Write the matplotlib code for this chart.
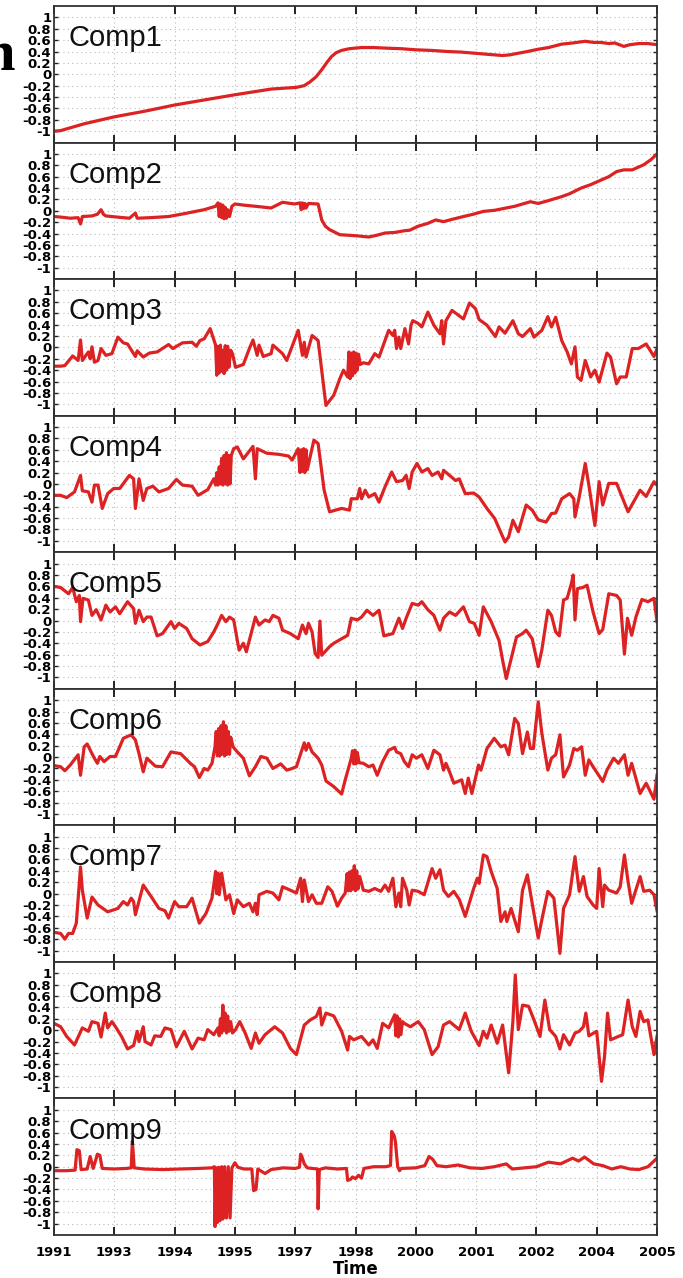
import numpy as np
import matplotlib
matplotlib.use("Agg")
import matplotlib.pyplot as plt

years = ['1991', '1993', '1994', '1995', '1997', '1998', '2000', '2001', '2002', '2004', '2005']
names = ['Comp1', 'Comp2', 'Comp3', 'Comp4', 'Comp5', 'Comp6', 'Comp7', 'Comp8', 'Comp9']

# (position on time axis, value)
comp1 = [(0.0, -1.0), (0.11, -0.99), (0.5, -0.87), (0.99, -0.75), (1.5, -0.65), (2.0, -0.54), (2.5, -0.45),
         (3.0, -0.36), (3.3, -0.31), (3.6, -0.26), (4.02, -0.23), (4.15, -0.2), (4.25, -0.13), (4.35, -0.04),
         (4.44, 0.08), (4.52, 0.2), (4.6, 0.31), (4.68, 0.38), (4.77, 0.42), (4.9, 0.45), (5.1, 0.47), (5.3, 0.47),
         (5.49, 0.46), (5.75, 0.45), (6.0, 0.43), (6.25, 0.42), (6.53, 0.40), (6.75, 0.39), (6.98, 0.37), (7.2, 0.35),
         (7.44, 0.33), (7.55, 0.34), (7.7, 0.37), (7.85, 0.40), (8.03, 0.44), (8.2, 0.47), (8.42, 0.53), (8.6, 0.55),
         (8.81, 0.58), (8.95, 0.56), (9.07, 0.56), (9.2, 0.54), (9.3, 0.55), (9.45, 0.49), (9.55, 0.52), (9.7, 0.54),
         (9.85, 0.54), (10.0, 0.52)]

comp2 = [(0.0, -0.10), (0.11, -0.11), (0.27, -0.13), (0.40, -0.12), (0.44, -0.23), (0.47, -0.10), (0.63, -0.09),
         (0.72, -0.06), (0.78, 0.02), (0.82, -0.06), (0.86, -0.09), (1.05, -0.11), (1.25, -0.13), (1.35, -0.04),
         (1.38, -0.13), (1.6, -0.12), (1.9, -0.10), (2.16, -0.05), (2.3, -0.02), (2.49, 0.02), (2.68, 0.08),
         (2.72, 0.14), (2.74, -0.10), (2.76, 0.12), (2.78, -0.12), (2.80, 0.10), (2.82, -0.14), (2.84, 0.06),
         (2.86, -0.13), (2.88, 0.02), (2.91, -0.10), (2.95, 0.08), (3.0, 0.12), (3.15, 0.10), (3.34, 0.08),
         (3.6, 0.05), (3.79, 0.15), (3.99, 0.12), (4.08, 0.14), (4.10, 0.02), (4.12, 0.14), (4.14, 0.04),
         (4.16, 0.13), (4.18, 0.05), (4.22, 0.13), (4.38, 0.12), (4.44, -0.16), (4.5, -0.27), (4.57, -0.33),
         (4.74, -0.42), (4.9, -0.43), (5.03, -0.44), (5.22, -0.46), (5.35, -0.43), (5.49, -0.39), (5.65, -0.38),
         (5.81, -0.35), (5.9, -0.34), (6.04, -0.27), (6.2, -0.22), (6.33, -0.16), (6.46, -0.19), (6.6, -0.15),
         (6.79, -0.10), (6.95, -0.06), (7.12, -0.01), (7.31, 0.01), (7.45, 0.04), (7.64, 0.08), (7.9, 0.16),
         (8.03, 0.13), (8.2, 0.18), (8.42, 0.25), (8.55, 0.30), (8.74, 0.40), (8.9, 0.46), (9.07, 0.54),
         (9.2, 0.60), (9.33, 0.69), (9.45, 0.72), (9.59, 0.72), (9.78, 0.81), (9.9, 0.90), (10.0, 1.0)]

comp3 = [(0.0, -0.33), (0.11, -0.33), (0.18, -0.32), (0.31, -0.15), (0.40, -0.23), (0.44, 0.13), (0.47, -0.23),
         (0.57, -0.08), (0.60, -0.20), (0.63, 0.01), (0.67, -0.26), (0.73, -0.23), (0.78, -0.02), (0.86, -0.14),
         (0.96, -0.11), (1.06, 0.18), (1.15, 0.08), (1.22, 0.06), (1.35, -0.16), (1.38, -0.06), (1.48, -0.17),
         (1.58, -0.10), (1.71, -0.08), (1.90, 0.05), (1.97, -0.02), (2.13, 0.08), (2.29, 0.09), (2.36, 0.02),
         (2.42, 0.12), (2.49, 0.15), (2.59, 0.33), (2.68, 0.04), (2.70, -0.49), (2.72, 0.02), (2.74, -0.45),
         (2.76, 0.04), (2.78, -0.42), (2.80, -0.05), (2.82, -0.46), (2.84, 0.03), (2.86, -0.40), (2.88, 0.02),
         (2.90, -0.35), (2.93, -0.05), (2.96, -0.11), (3.01, -0.35), (3.14, -0.30), (3.24, -0.02), (3.30, 0.13),
         (3.37, -0.14), (3.40, 0.04), (3.47, -0.16), (3.60, -0.11), (3.63, 0.04), (3.79, -0.11), (3.86, -0.23),
         (4.05, 0.30), (4.12, -0.14), (4.15, 0.09), (4.18, -0.17), (4.28, 0.21), (4.38, 0.12), (4.44, -0.40),
         (4.51, -1.02), (4.64, -0.84), (4.74, -0.55), (4.80, -0.40), (4.87, -0.52), (4.89, -0.08), (4.91, -0.55),
         (4.93, -0.10), (4.95, -0.50), (4.97, -0.08), (4.99, -0.45), (5.01, -0.10), (5.03, -0.40), (5.05, -0.12),
         (5.08, -0.30), (5.13, -0.27), (5.22, -0.29), (5.32, -0.11), (5.39, -0.17), (5.55, 0.30), (5.62, 0.21),
         (5.65, 0.30), (5.68, -0.02), (5.72, 0.18), (5.75, -0.02), (5.82, 0.33), (5.88, 0.06), (5.92, 0.39),
         (5.95, 0.47), (6.04, 0.42), (6.10, 0.36), (6.20, 0.62), (6.30, 0.39), (6.40, 0.24), (6.43, 0.47),
         (6.46, 0.06), (6.50, 0.47), (6.60, 0.65), (6.79, 0.50), (6.89, 0.78), (6.99, 0.68), (7.05, 0.49),
         (7.18, 0.39), (7.32, 0.19), (7.38, 0.36), (7.48, 0.25), (7.61, 0.47), (7.70, 0.24), (7.77, 0.19),
         (7.90, 0.33), (7.96, 0.18), (8.09, 0.30), (8.19, 0.54), (8.25, 0.36), (8.32, 0.53), (8.42, 0.12),
         (8.51, -0.08), (8.58, -0.29), (8.64, 0.01), (8.68, -0.52), (8.74, -0.58), (8.81, -0.23), (8.90, -0.52),
         (8.97, -0.40), (9.04, -0.61), (9.17, -0.10), (9.23, -0.17), (9.33, -0.64), (9.39, -0.52), (9.49, -0.52),
         (9.59, -0.02), (9.69, -0.02), (9.82, 0.06), (9.95, -0.16), (10.0, -0.02)]

comp4 = [(0.0, -0.20), (0.11, -0.20), (0.21, -0.24), (0.34, -0.14), (0.44, 0.15), (0.47, -0.12), (0.57, -0.14),
         (0.63, -0.32), (0.67, -0.02), (0.73, -0.02), (0.80, -0.43), (0.89, -0.17), (0.99, -0.08), (1.09, -0.08),
         (1.25, 0.15), (1.32, 0.09), (1.35, -0.43), (1.41, 0.09), (1.48, -0.29), (1.54, -0.08), (1.64, -0.04),
         (1.74, -0.14), (1.90, -0.08), (2.03, 0.08), (2.13, -0.02), (2.29, -0.04), (2.39, -0.20), (2.55, -0.10),
         (2.65, 0.09), (2.68, -0.02), (2.70, 0.20), (2.72, -0.02), (2.74, 0.30), (2.76, 0.0), (2.78, 0.45),
         (2.80, -0.02), (2.82, 0.50), (2.84, 0.0), (2.86, 0.55), (2.88, -0.02), (2.90, 0.50), (2.92, 0.0),
         (2.94, 0.50), (2.98, 0.62), (3.04, 0.65), (3.14, 0.44), (3.30, 0.66), (3.34, 0.09), (3.37, 0.62),
         (3.53, 0.54), (3.73, 0.52), (3.89, 0.49), (3.95, 0.42), (4.05, 0.62), (4.08, 0.20), (4.10, 0.60),
         (4.12, 0.22), (4.14, 0.62), (4.16, 0.20), (4.18, 0.60), (4.20, 0.25), (4.31, 0.77), (4.38, 0.71),
         (4.48, -0.11), (4.57, -0.49), (4.77, -0.43), (4.90, -0.46), (4.93, -0.26), (5.03, -0.26), (5.07, -0.08),
         (5.10, -0.26), (5.16, -0.11), (5.22, -0.23), (5.32, -0.17), (5.39, -0.32), (5.49, -0.05), (5.60, 0.21),
         (5.68, 0.04), (5.78, 0.06), (5.84, 0.15), (5.89, -0.08), (5.94, 0.21), (6.02, 0.36), (6.10, 0.21),
         (6.20, 0.27), (6.27, 0.15), (6.37, 0.21), (6.43, 0.09), (6.46, 0.24), (6.56, 0.15), (6.66, 0.06),
         (6.72, 0.09), (6.82, -0.17), (6.96, -0.16), (7.05, -0.23), (7.18, -0.43), (7.31, -0.61), (7.38, -0.78),
         (7.48, -1.02), (7.54, -0.93), (7.61, -0.64), (7.70, -0.84), (7.83, -0.37), (7.93, -0.46), (8.03, -0.63),
         (8.16, -0.67), (8.25, -0.52), (8.32, -0.51), (8.42, -0.26), (8.55, -0.17), (8.62, -0.26), (8.64, -0.58),
         (8.71, -0.23), (8.81, 0.36), (8.87, -0.02), (8.97, -0.73), (9.04, 0.04), (9.10, -0.37), (9.20, 0.01),
         (9.33, 0.01), (9.52, -0.49), (9.72, -0.11), (9.82, -0.22), (9.95, 0.04), (10.0, -0.02)]

comp5 = [(0.0, 0.60), (0.11, 0.58), (0.24, 0.47), (0.31, 0.58), (0.37, 0.33), (0.42, 0.44), (0.44, -0.02),
         (0.48, 0.39), (0.57, 0.36), (0.63, 0.09), (0.70, 0.19), (0.78, 0.01), (0.86, 0.27), (0.93, 0.15),
         (1.02, 0.24), (1.09, 0.12), (1.22, 0.33), (1.32, 0.21), (1.35, -0.05), (1.41, 0.18), (1.48, -0.02),
         (1.54, 0.06), (1.61, 0.06), (1.71, -0.27), (1.80, -0.23), (1.94, -0.02), (2.00, -0.14), (2.07, -0.05),
         (2.20, -0.14), (2.29, -0.32), (2.42, -0.43), (2.55, -0.37), (2.65, -0.20), (2.72, -0.05), (2.78, 0.09),
         (2.85, -0.02), (2.91, 0.06), (2.98, 0.01), (3.04, -0.35), (3.07, -0.52), (3.14, -0.40), (3.19, -0.55),
         (3.34, 0.06), (3.40, -0.08), (3.50, 0.01), (3.57, -0.02), (3.63, 0.09), (3.73, 0.04), (3.79, -0.17),
         (3.92, -0.23), (4.05, -0.32), (4.12, -0.08), (4.18, -0.23), (4.22, -0.05), (4.28, -0.20), (4.33, -0.58),
         (4.38, -0.65), (4.41, -0.01), (4.44, -0.61), (4.57, -0.46), (4.64, -0.40), (4.77, -0.32), (4.87, -0.26),
         (4.93, 0.04), (5.03, 0.01), (5.10, 0.06), (5.19, 0.18), (5.29, 0.09), (5.39, 0.18), (5.47, -0.27),
         (5.62, -0.23), (5.72, 0.04), (5.78, -0.14), (5.84, 0.04), (5.94, 0.30), (6.04, 0.27), (6.10, 0.33),
         (6.20, 0.19), (6.30, 0.09), (6.40, -0.17), (6.46, 0.04), (6.56, 0.15), (6.66, 0.09), (6.79, 0.24),
         (6.89, -0.02), (6.97, -0.05), (7.05, -0.26), (7.12, 0.24), (7.25, -0.02), (7.38, -0.35), (7.44, -0.70),
         (7.50, -1.02), (7.61, -0.55), (7.67, -0.29), (7.77, -0.23), (7.83, -0.17), (7.93, -0.32), (8.03, -0.81),
         (8.09, -0.52), (8.19, 0.18), (8.25, 0.09), (8.32, -0.20), (8.38, -0.27), (8.45, 0.36), (8.51, 0.39),
         (8.58, 0.65), (8.61, 0.80), (8.64, 0.01), (8.68, 0.56), (8.77, 0.58), (8.84, 0.62), (8.94, 0.15),
         (9.04, -0.23), (9.10, -0.16), (9.20, 0.47), (9.33, 0.44), (9.39, 0.36), (9.46, -0.59), (9.51, 0.04),
         (9.58, -0.26), (9.65, 0.06), (9.75, 0.37), (9.85, 0.33), (9.95, 0.39), (10.0, -0.02)]

comp6 = [(0.0, -0.15), (0.11, -0.17), (0.18, -0.24), (0.27, -0.14), (0.40, 0.04), (0.44, -0.32), (0.50, 0.18),
         (0.55, 0.23), (0.63, 0.06), (0.67, -0.02), (0.72, -0.11), (0.76, 0.01), (0.83, -0.08), (0.93, 0.01),
         (1.02, 0.01), (1.15, 0.33), (1.28, 0.39), (1.35, 0.30), (1.38, 0.18), (1.41, 0.06), (1.48, -0.26),
         (1.54, -0.02), (1.68, -0.16), (1.80, -0.17), (1.94, 0.09), (2.10, 0.06), (2.26, -0.11), (2.33, -0.17),
         (2.41, -0.36), (2.49, -0.20), (2.55, -0.23), (2.62, -0.11), (2.67, 0.18), (2.69, 0.45), (2.71, 0.02),
         (2.73, 0.50), (2.75, 0.02), (2.77, 0.55), (2.79, 0.05), (2.81, 0.62), (2.83, 0.02), (2.85, 0.55),
         (2.87, 0.05), (2.89, 0.45), (2.91, 0.05), (2.93, 0.35), (2.97, 0.18), (3.04, 0.09), (3.14, -0.02),
         (3.24, -0.33), (3.34, -0.17), (3.43, 0.01), (3.53, -0.02), (3.63, -0.20), (3.76, -0.12), (3.86, -0.23),
         (3.95, -0.20), (4.02, -0.17), (4.15, 0.25), (4.18, 0.12), (4.22, 0.24), (4.28, 0.09), (4.38, -0.02),
         (4.44, -0.14), (4.51, -0.42), (4.64, -0.52), (4.77, -0.65), (4.83, -0.40), (4.93, -0.02), (4.95, 0.11),
         (4.97, -0.12), (4.99, 0.12), (5.01, -0.12), (5.03, 0.08), (5.06, -0.10), (5.13, -0.11), (5.22, -0.17),
         (5.29, -0.14), (5.36, -0.32), (5.45, -0.08), (5.55, 0.12), (5.65, 0.17), (5.68, 0.09), (5.75, 0.06),
         (5.81, -0.08), (5.88, -0.17), (5.94, 0.04), (6.01, -0.02), (6.10, 0.04), (6.20, -0.20), (6.30, 0.12),
         (6.40, 0.04), (6.46, -0.23), (6.50, -0.11), (6.56, -0.26), (6.63, -0.46), (6.76, -0.40), (6.82, -0.64),
         (6.87, -0.37), (6.93, -0.64), (7.04, -0.14), (7.08, -0.23), (7.18, 0.15), (7.30, 0.33), (7.41, 0.18),
         (7.48, 0.21), (7.54, 0.04), (7.64, 0.68), (7.70, 0.59), (7.77, 0.06), (7.85, 0.44), (7.90, 0.15),
         (7.95, 0.15), (8.03, 0.97), (8.09, 0.42), (8.19, -0.23), (8.25, -0.02), (8.32, 0.04), (8.39, 0.39),
         (8.45, -0.35), (8.55, -0.14), (8.62, 0.15), (8.68, 0.12), (8.75, 0.18), (8.81, -0.32), (8.87, -0.05),
         (8.94, -0.17), (9.04, -0.33), (9.10, -0.43), (9.17, -0.23), (9.28, -0.02), (9.36, -0.11), (9.46, 0.04),
         (9.52, -0.32), (9.58, -0.11), (9.72, -0.64), (9.82, -0.46), (9.95, -0.74), (10.0, -0.32)]

comp7 = [(0.0, -0.68), (0.11, -0.70), (0.18, -0.80), (0.24, -0.70), (0.31, -0.70), (0.37, -0.52), (0.44, 0.47),
         (0.47, 0.06), (0.55, -0.43), (0.63, -0.06), (0.73, -0.20), (0.89, -0.32), (1.06, -0.26), (1.15, -0.14),
         (1.22, -0.20), (1.28, -0.08), (1.32, -0.14), (1.35, -0.37), (1.48, 0.15), (1.61, -0.05), (1.74, -0.26),
         (1.84, -0.30), (1.90, -0.43), (2.00, -0.14), (2.07, -0.23), (2.20, -0.23), (2.29, -0.08), (2.41, -0.52),
         (2.52, -0.35), (2.62, -0.08), (2.68, 0.39), (2.70, 0.0), (2.72, 0.36), (2.74, -0.02), (2.78, 0.36),
         (2.85, -0.11), (2.91, -0.02), (2.98, -0.35), (3.04, -0.11), (3.14, -0.23), (3.24, -0.17), (3.30, -0.32),
         (3.34, -0.17), (3.37, -0.37), (3.40, -0.02), (3.53, 0.04), (3.63, 0.01), (3.73, -0.11), (3.79, 0.12),
         (3.92, 0.06), (4.02, 0.01), (4.09, 0.27), (4.12, -0.14), (4.15, 0.24), (4.22, -0.14), (4.28, -0.02),
         (4.35, -0.17), (4.44, -0.17), (4.54, 0.12), (4.61, 0.04), (4.70, -0.22), (4.77, -0.08), (4.83, 0.01),
         (4.86, 0.35), (4.88, 0.05), (4.90, 0.38), (4.92, 0.05), (4.94, 0.40), (4.96, 0.08), (4.98, 0.49),
         (5.00, 0.05), (5.02, 0.40), (5.04, 0.08), (5.07, 0.30), (5.13, 0.06), (5.22, 0.04), (5.32, 0.09),
         (5.42, 0.04), (5.49, 0.15), (5.55, 0.04), (5.62, 0.27), (5.67, -0.23), (5.72, 0.01), (5.75, -0.23),
         (5.78, 0.27), (5.85, 0.06), (5.89, -0.20), (5.94, 0.06), (6.04, 0.04), (6.14, -0.02), (6.27, 0.44),
         (6.33, 0.27), (6.40, 0.42), (6.46, 0.06), (6.54, -0.05), (6.63, 0.04), (6.72, -0.10), (6.82, -0.40),
         (6.96, 0.09), (7.02, 0.27), (7.05, 0.18), (7.12, 0.68), (7.18, 0.65), (7.25, 0.39), (7.35, 0.09),
         (7.41, -0.49), (7.48, -0.32), (7.51, -0.49), (7.58, -0.26), (7.70, -0.67), (7.77, 0.06), (7.85, 0.33),
         (7.93, -0.17), (8.03, -0.78), (8.09, -0.46), (8.19, 0.04), (8.29, -0.08), (8.39, -1.05), (8.45, -0.26),
         (8.55, -0.02), (8.64, 0.65), (8.71, 0.04), (8.78, 0.30), (8.84, -0.05), (8.94, -0.20), (9.00, -0.26),
         (9.04, 0.44), (9.10, -0.23), (9.13, 0.15), (9.20, 0.06), (9.33, 0.01), (9.39, 0.12), (9.46, 0.68),
         (9.52, 0.21), (9.58, -0.17), (9.72, 0.30), (9.78, 0.04), (9.88, 0.06), (9.95, -0.02), (10.0, -0.30)]

comp8 = [(0.0, 0.12), (0.11, 0.06), (0.21, -0.11), (0.34, -0.26), (0.47, 0.04), (0.57, -0.02), (0.63, 0.15),
         (0.73, 0.12), (0.78, -0.12), (0.85, 0.30), (0.89, 0.04), (0.96, 0.15), (1.02, 0.06), (1.12, -0.11),
         (1.22, -0.33), (1.32, -0.27), (1.38, -0.02), (1.41, -0.20), (1.48, 0.06), (1.51, -0.20), (1.61, -0.26),
         (1.67, -0.10), (1.77, -0.11), (1.84, 0.04), (1.94, 0.01), (2.03, -0.29), (2.16, -0.02), (2.29, -0.33),
         (2.39, -0.14), (2.49, -0.17), (2.55, 0.01), (2.65, -0.08), (2.72, 0.04), (2.74, -0.10), (2.76, 0.20),
         (2.78, -0.05), (2.80, 0.44), (2.82, 0.0), (2.84, 0.30), (2.86, -0.05), (2.88, 0.25), (2.90, -0.02),
         (2.93, 0.15), (2.96, -0.05), (3.01, 0.01), (3.08, 0.15), (3.17, -0.05), (3.27, -0.32), (3.34, -0.05),
         (3.40, -0.23), (3.50, -0.08), (3.66, 0.06), (3.79, -0.05), (3.92, -0.32), (4.02, -0.43), (4.15, 0.09),
         (4.25, 0.18), (4.35, 0.24), (4.41, 0.39), (4.44, 0.09), (4.51, 0.30), (4.64, 0.25), (4.77, -0.02),
         (4.87, -0.35), (4.90, -0.11), (4.97, -0.17), (5.10, -0.11), (5.22, -0.26), (5.29, -0.17), (5.36, -0.32),
         (5.45, 0.12), (5.55, 0.04), (5.65, 0.27), (5.67, -0.10), (5.69, 0.25), (5.71, -0.12), (5.73, 0.20),
         (5.75, -0.08), (5.78, 0.15), (5.81, 0.12), (5.91, 0.06), (6.04, 0.15), (6.14, 0.01), (6.27, -0.43),
         (6.37, -0.29), (6.46, 0.09), (6.56, 0.15), (6.72, 0.01), (6.82, 0.30), (6.92, -0.02), (7.05, -0.27),
         (7.12, -0.02), (7.18, -0.14), (7.25, 0.09), (7.35, -0.23), (7.44, 0.09), (7.54, -0.75), (7.61, 0.15),
         (7.65, 0.97), (7.70, 0.01), (7.77, 0.44), (7.87, 0.42), (7.96, 0.18), (8.06, -0.11), (8.14, 0.53),
         (8.22, 0.01), (8.32, -0.11), (8.39, -0.33), (8.45, -0.08), (8.55, -0.26), (8.64, -0.05), (8.71, -0.02),
         (8.78, 0.06), (8.82, 0.30), (8.87, -0.10), (9.00, -0.02), (9.08, -0.90), (9.13, -0.46), (9.18, 0.30),
         (9.23, -0.17), (9.36, -0.11), (9.43, -0.08), (9.52, 0.53), (9.59, 0.06), (9.65, -0.11), (9.72, 0.33),
         (9.78, 0.15), (9.85, 0.18), (9.95, -0.43), (10.0, -0.11)]

comp9 = [(0.0, -0.07), (0.2, -0.07), (0.35, -0.06), (0.38, 0.30), (0.42, 0.28), (0.45, -0.05), (0.55, -0.04),
         (0.60, 0.18), (0.65, -0.03), (0.72, 0.22), (0.76, 0.20), (0.80, -0.03), (1.0, -0.04), (1.2, -0.03),
         (1.28, -0.02), (1.30, 0.45), (1.33, -0.02), (1.5, -0.04), (1.8, -0.05), (2.1, -0.04), (2.4, -0.03),
         (2.62, -0.02), (2.66, 0.0), (2.67, -1.05), (2.69, -0.02), (2.71, -0.98), (2.73, -0.01), (2.75, -0.95),
         (2.78, 0.0), (2.80, -0.92), (2.83, 0.0), (2.86, -0.90), (2.89, 0.0), (2.92, -0.90), (2.95, -0.02),
         (3.0, 0.07), (3.05, -0.01), (3.15, -0.04), (3.28, -0.04), (3.31, -0.42), (3.35, -0.40), (3.38, -0.04),
         (3.5, -0.12), (3.6, -0.05), (3.8, -0.02), (4.0, -0.03), (4.07, -0.01), (4.09, 0.22), (4.12, 0.15),
         (4.15, 0.05), (4.2, -0.02), (4.37, -0.04), (4.38, -0.74), (4.40, -0.05), (4.5, -0.02), (4.7, -0.04),
         (4.85, -0.03), (4.87, -0.24), (4.92, -0.22), (4.95, -0.18), (5.0, -0.21), (5.05, -0.15), (5.1, -0.20),
         (5.14, -0.03), (5.3, 0.0), (5.5, 0.0), (5.58, 0.02), (5.60, 0.62), (5.64, 0.55), (5.66, 0.45),
         (5.70, 0.0), (5.73, -0.07), (5.76, -0.03), (6.0, -0.02), (6.15, 0.02), (6.22, 0.18), (6.28, 0.13),
         (6.35, 0.02), (6.5, 0.0), (6.7, 0.03), (6.9, -0.02), (7.1, -0.03), (7.3, 0.0), (7.5, 0.05), (7.6, -0.04),
         (7.8, -0.02), (8.0, 0.0), (8.2, 0.08), (8.4, 0.05), (8.6, 0.15), (8.7, 0.10), (8.8, 0.17), (8.95, 0.05),
         (9.1, 0.02), (9.25, -0.04), (9.4, 0.0), (9.55, -0.04), (9.7, -0.05), (9.85, 0.0), (10.0, 0.15)]

series = [comp1, comp2, comp3, comp4, comp5, comp6, comp7, comp8, comp9]

fig = plt.figure(figsize=(6.83, 12.78), dpi=100)
W, H = 683.0, 1278.0
left, right, top, bottom = 54 / W, 657 / W, 1 - 6 / H, 1 - 1235 / H
ph = (top - bottom) / 9

yt = np.linspace(-1, 1, 11)
ylabels = ['%g' % round(v, 1) for v in yt]
tickfont = {'family': ['Liberation Sans Narrow', 'DejaVu Sans'], 'weight': 'bold', 'size': 9.5}

for i, (name, data) in enumerate(zip(names, series)):
    ax = fig.add_axes([left, top - (i + 1) * ph, right - left, ph])
    t, v = zip(*data)
    ax.plot(t, v, color='#dc2222', lw=2.3, solid_joinstyle='round')
    ax.set_xlim(0, 10)
    ax.set_ylim(-1.2, 1.2)
    ax.set_xticks(range(11))
    ax.set_yticks(yt)
    ax.set_yticklabels(ylabels, fontdict=tickfont)
    ax.grid(True, ls=(0, (1, 3)), color='#b8b8b8', lw=0.8)
    ax.tick_params(axis='x', direction='in', length=6, width=1.4, top=True, pad=8, color='#222222')
    ax.tick_params(axis='y', direction='in', length=3, width=1.0, right=True, pad=2, color='#222222')
    for s in ax.spines.values():
        s.set_linewidth(1.3)
        s.set_color('#333333')
    ax.text(0.024, 0.765, name, transform=ax.transAxes, fontsize=21, va='center', ha='left',
            family=['Liberation Sans', 'DejaVu Sans'], color='#111111')
    if i < 8:
        ax.set_xticklabels([])
    else:
        ax.set_xticklabels(years, fontdict=tickfont)
        ax.set_xlabel('Time', fontdict={'family': ['Liberation Sans Narrow', 'DejaVu Sans'],
                                        'weight': 'bold', 'size': 12}, labelpad=1)

fig.text(15 / W, 1 - 70 / H, 'h', ha='right', va='baseline', fontsize=42, fontweight='bold',
         family=['Liberation Serif', 'DejaVu Serif'])

fig.savefig('out.png', dpi=100)
